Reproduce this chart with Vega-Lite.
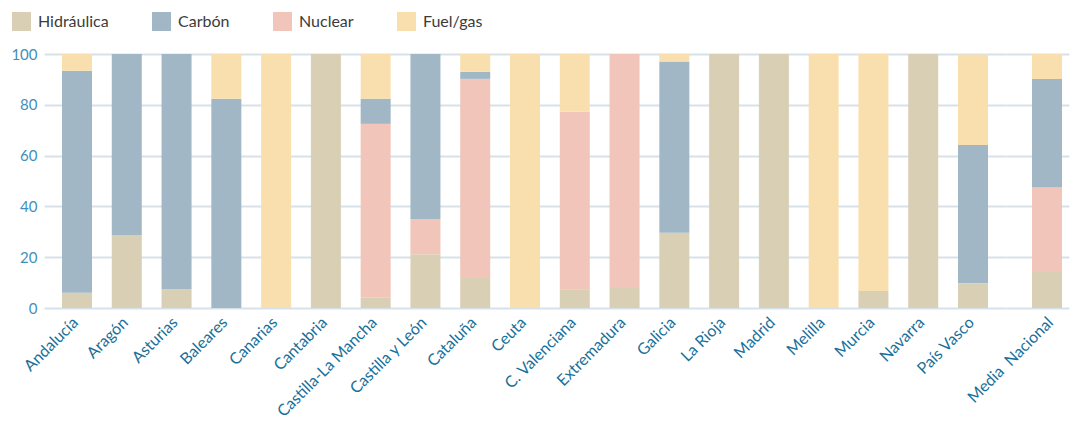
{
  "$schema": "https://vega.github.io/schema/vega-lite/v6.json",
  "background": "white",
  "padding": {"left": 10, "top": 12, "right": 5, "bottom": 0},
  "spacing": 0,
  "bounds": "flush",
  "data": {
    "values": [
      {"region": "Andalucía", "fuente": "Hidráulica", "pct": 6},
      {"region": "Andalucía", "fuente": "Carbón", "pct": 87.4},
      {"region": "Andalucía", "fuente": "Fuel/gas", "pct": 6.6},
      {"region": "Aragón", "fuente": "Hidráulica", "pct": 28.7},
      {"region": "Aragón", "fuente": "Carbón", "pct": 71.3},
      {"region": "Asturias", "fuente": "Hidráulica", "pct": 7.4},
      {"region": "Asturias", "fuente": "Carbón", "pct": 92.6},
      {"region": "Baleares", "fuente": "Carbón", "pct": 82.4},
      {"region": "Baleares", "fuente": "Fuel/gas", "pct": 17.6},
      {"region": "Canarias", "fuente": "Fuel/gas", "pct": 100},
      {"region": "Cantabria", "fuente": "Hidráulica", "pct": 100},
      {"region": "Castilla-La Mancha", "fuente": "Hidráulica", "pct": 4},
      {"region": "Castilla-La Mancha", "fuente": "Nuclear", "pct": 68.5},
      {"region": "Castilla-La Mancha", "fuente": "Carbón", "pct": 9.9},
      {"region": "Castilla-La Mancha", "fuente": "Fuel/gas", "pct": 17.6},
      {"region": "Castilla y León", "fuente": "Hidráulica", "pct": 21.2},
      {"region": "Castilla y León", "fuente": "Nuclear", "pct": 13.8},
      {"region": "Castilla y León", "fuente": "Carbón", "pct": 65},
      {"region": "Cataluña", "fuente": "Hidráulica", "pct": 11.8},
      {"region": "Cataluña", "fuente": "Nuclear", "pct": 78.4},
      {"region": "Cataluña", "fuente": "Carbón", "pct": 2.8},
      {"region": "Cataluña", "fuente": "Fuel/gas", "pct": 7},
      {"region": "Ceuta", "fuente": "Fuel/gas", "pct": 100},
      {"region": "C. Valenciana", "fuente": "Hidráulica", "pct": 7.4},
      {"region": "C. Valenciana", "fuente": "Nuclear", "pct": 69.9},
      {"region": "C. Valenciana", "fuente": "Fuel/gas", "pct": 22.7},
      {"region": "Extremadura", "fuente": "Hidráulica", "pct": 7.9},
      {"region": "Extremadura", "fuente": "Nuclear", "pct": 92.1},
      {"region": "Galicia", "fuente": "Hidráulica", "pct": 29.6},
      {"region": "Galicia", "fuente": "Carbón", "pct": 67.4},
      {"region": "Galicia", "fuente": "Fuel/gas", "pct": 3},
      {"region": "La Rioja", "fuente": "Hidráulica", "pct": 100},
      {"region": "Madrid", "fuente": "Hidráulica", "pct": 100},
      {"region": "Melilla", "fuente": "Fuel/gas", "pct": 100},
      {"region": "Murcia", "fuente": "Hidráulica", "pct": 6.7},
      {"region": "Murcia", "fuente": "Fuel/gas", "pct": 93.3},
      {"region": "Navarra", "fuente": "Hidráulica", "pct": 100},
      {"region": "País Vasco", "fuente": "Hidráulica", "pct": 9.7},
      {"region": "País Vasco", "fuente": "Carbón", "pct": 54.5},
      {"region": "País Vasco", "fuente": "Fuel/gas", "pct": 35.6},
      {"region": "Media\u00a0 Nacional", "fuente": "Hidráulica", "pct": 14.2},
      {"region": "Media\u00a0 Nacional", "fuente": "Nuclear", "pct": 33.2},
      {"region": "Media\u00a0 Nacional", "fuente": "Carbón", "pct": 42.8},
      {"region": "Media\u00a0 Nacional", "fuente": "Fuel/gas", "pct": 9.8}
    ]
  },
  "transform": [
    {"calculate": "indexof(['Hidráulica','Nuclear','Carbón','Fuel/gas'], datum.fuente)", "as": "orden"}
  ],
  "hconcat": [
    {
      "width": 962,
      "height": 254,
      "transform": [{"filter": {"not": {"field": "region", "equal": "Media\u00a0 Nacional"}}}],
      "mark": {"type": "bar"},
      "encoding": {
        "x": {
          "field": "region",
          "type": "nominal",
          "scale": {
            "domain": ["Andalucía", "Aragón", "Asturias", "Baleares", "Canarias", "Cantabria", "Castilla-La Mancha", "Castilla y León", "Cataluña", "Ceuta", "C. Valenciana", "Extremadura", "Galicia", "La Rioja", "Madrid", "Melilla", "Murcia", "Navarra", "País Vasco"],
            "paddingInner": 0.3973,
            "paddingOuter": 0.3616,
            "round": false
          },
          "axis": {"title": null, "labelAngle": -45, "domain": false, "ticks": false, "labelPadding": 6, "labelOffset": -7, "labelOverlap": false, "labelLimit": 300}
        },
        "y": {
          "field": "pct",
          "type": "quantitative",
          "stack": "zero",
          "scale": {"domain": [0, 100], "nice": false},
          "axis": {"title": null, "values": [0, 20, 40, 60, 80, 100], "grid": true, "domain": false, "ticks": false, "labelPadding": 7, "minExtent": 33, "maxExtent": 33}
        },
        "color": {
          "field": "fuente",
          "type": "nominal",
          "scale": {"domain": ["Hidráulica", "Carbón", "Nuclear", "Fuel/gas"], "range": ["#d9cfb4", "#a1b7c6", "#f1c5b9", "#fadfae"]},
          "legend": {"orient": "none", "legendX": -32, "legendY": -42, "direction": "horizontal", "title": null, "symbolType": "square", "symbolSize": 361, "symbolStrokeWidth": 0, "symbolOpacity": 1, "labelFontSize": 16, "labelColor": "#3b3b3b", "columnPadding": 43, "labelOffset": 7}
        },
        "order": {"field": "orden", "sort": "ascending"}
      }
    },
    {
      "width": 63,
      "height": 254,
      "transform": [{"filter": {"field": "region", "equal": "Media\u00a0 Nacional"}}],
      "mark": {"type": "bar"},
      "encoding": {
        "x": {
          "field": "region",
          "type": "nominal",
          "scale": {"domain": ["Media\u00a0 Nacional"], "paddingInner": 0, "paddingOuter": 0.55, "align": 0.788, "round": false},
          "axis": {"title": null, "labelAngle": -45, "domain": false, "ticks": false, "labelPadding": 6, "labelOffset": -2, "labelOverlap": false, "labelLimit": 300}
        },
        "y": {
          "field": "pct",
          "type": "quantitative",
          "stack": "zero",
          "scale": {"domain": [0, 100], "nice": false},
          "axis": {"title": null, "values": [0, 20, 40, 60, 80, 100], "grid": true, "labels": false, "domain": false, "ticks": false, "minExtent": 0, "maxExtent": 0}
        },
        "color": {
          "field": "fuente",
          "type": "nominal",
          "scale": {"domain": ["Hidráulica", "Carbón", "Nuclear", "Fuel/gas"], "range": ["#d9cfb4", "#a1b7c6", "#f1c5b9", "#fadfae"]}
        },
        "order": {"field": "orden", "sort": "ascending"}
      }
    }
  ],
  "resolve": {"scale": {"x": "independent"}},
  "config": {
    "view": {"stroke": null},
    "font": "Lato",
    "axis": {"labelFont": "Lato", "gridColor": "#d6e1e9", "gridWidth": 2, "gridOpacity": 1},
    "axisX": {"labelFontSize": 16, "labelColor": "#17709a"},
    "axisY": {"labelFontSize": 15, "labelColor": "#3f90ba"},
    "legend": {"labelFont": "Lato"}
  }
}
